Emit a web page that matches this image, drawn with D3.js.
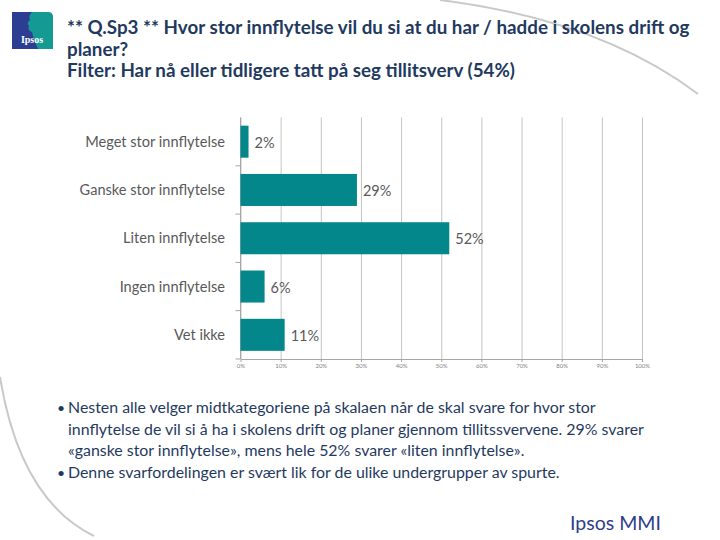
<!DOCTYPE html>
<html>
<head>
<meta charset="utf-8">
<script src="https://cdn.jsdelivr.net/npm/d3@7"></script>
<style>
  body { margin: 0; background: #fff; }
  svg { display: block; }
</style>
</head>
<body>
<div id="chart"></div>
<script>
//size of the page
var width = 720;
var height = 540;

//chart data
var categories = ["Meget stor innflytelse", "Ganske stor innflytelse",
                  "Liten innflytelse", "Ingen innflytelse", "Vet ikke"];
var values = [2, 29, 52, 6, 11];
var tickValues = [0, 10, 20, 30, 40, 50, 60, 70, 80, 90, 100];

//texts
var titleLines = ["** Q.Sp3 ** Hvor stor innflytelse vil du si at du har / hadde i skolens drift og",
                  "planer?",
                  "Filter: Har nå eller tidligere tatt på seg tillitsverv (54%)"];
var bulletLines = [
  {bullet: true,  text: "Nesten alle velger midtkategoriene på skalaen når de skal svare for hvor stor"},
  {bullet: false, text: "innflytelse de vil si å ha i skolens drift og planer gjennom tillitssvervene. 29% svarer"},
  {bullet: false, text: "«ganske stor innflytelse», mens hele 52% svarer «liten innflytelse»."},
  {bullet: true,  text: "Denne svarfordelingen er svært lik for de ulike undergrupper av spurte."}
];

var font = "Lato, 'Open Sans', sans-serif";
var navy = "#1f3a60";

var svg = d3.select("#chart")
            .append("svg")
            .attr("width", width)
            .attr("height", height);

//background arcs
svg.append("path")
   .attr("d", "M440,0 Q600,20 698,94")
   .attr("fill", "none")
   .attr("stroke", "#c9c9c9")
   .attr("stroke-width", 2);
svg.append("path")
   .attr("d", "M0,377 Q20,500 94,536")
   .attr("fill", "none")
   .attr("stroke", "#c9c9c9")
   .attr("stroke-width", 2);

//logo
var logo = svg.append("g").attr("transform", "translate(12,12)");
logo.append("path")
    .attr("d", "M0,0 H36 Q41,0 41,5 V37 H0 Z")
    .attr("fill", "#159a93");
logo.append("path")
    .attr("d", "M0,0 H20 Q16,4 18,8 Q14,11 17,14 Q15,18 20,20 Q21,26 26,37 H0 Z")
    .attr("fill", "#2c3d92");
logo.append("text")
    .text("Ipsos")
    .attr("x", 20)
    .attr("y", 31)
    .attr("text-anchor", "middle")
    .style("font-family", "'Liberation Serif', serif")
    .style("font-weight", "bold")
    .style("font-size", "10px")
    .style("fill", "#fff");

//title
svg.selectAll(".title")
   .data(titleLines)
   .enter()
   .append("text")
   .attr("class", "title")
   .text(function(d) { return d; })
   .attr("x", 67)
   .attr("y", function(d, i) { return 34 + i * 21.5; })
   .style("font-family", font)
   .style("font-weight", "bold")
   .style("font-size", "18.8px")
   .style("fill", navy);

//scales
var xScale = d3.scaleLinear()
               .domain([0, 100])
               .range([240.5, 642]);
var yScale = d3.scaleBand()
               .domain(categories)
               .range([117.5, 359])
               .paddingInner(0.337)
               .paddingOuter(0.169);

//vertical gridlines
svg.append("g")
   .attr("class", "grid")
   .attr("transform", "translate(0,359)")
   .call(d3.axisBottom(xScale)
           .tickValues(tickValues)
           .tickSize(-241.5)
           .tickSizeOuter(0)
           .tickFormat(""))
   .call(function(g) { g.select(".domain").remove(); })
   .selectAll("line")
   .attr("stroke", "#c4c4c4");

//x axis
var xAxis = svg.append("g")
   .attr("transform", "translate(0,359)")
   .call(d3.axisBottom(xScale)
           .tickValues(tickValues)
           .tickSize(3)
           .tickSizeOuter(0)
           .tickFormat(function(d) { return d + "%"; }));
xAxis.select(".domain").attr("stroke", "#a6a6a6");
xAxis.selectAll("line").attr("stroke", "#a6a6a6");
xAxis.selectAll("text")
     .attr("dy", "0.5em")
     .style("font-family", font)
     .style("font-size", "6px")
     .style("fill", "#7f7f7f");

//y axis with ticks at band boundaries
var yAxis = svg.append("g").attr("transform", "translate(240.5,0)");
yAxis.append("line")
     .attr("y1", 117.5)
     .attr("y2", 359)
     .attr("stroke", "#a6a6a6");
yAxis.selectAll(".btick")
     .data(categories)
     .enter()
     .append("line")
     .attr("x1", -5)
     .attr("x2", 0)
     .attr("y1", function(d) { return yScale(d) + yScale.bandwidth() + yScale.step() * yScale.paddingInner() / 2; })
     .attr("y2", function(d) { return yScale(d) + yScale.bandwidth() + yScale.step() * yScale.paddingInner() / 2; })
     .attr("stroke", "#a6a6a6");

//category labels
svg.selectAll(".cat")
   .data(categories)
   .enter()
   .append("text")
   .attr("class", "cat")
   .text(function(d) { return d; })
   .attr("x", 225)
   .attr("y", function(d) { return yScale(d) + yScale.bandwidth() / 2; })
   .attr("dy", "0.35em")
   .attr("text-anchor", "end")
   .style("font-family", font)
   .style("font-size", "14.6px")
   .style("fill", "#595959");

//bars
svg.selectAll(".bar")
   .data(values)
   .enter()
   .append("rect")
   .attr("class", "bar")
   .attr("x", xScale(0))
   .attr("y", function(d, i) { return yScale(categories[i]); })
   .attr("width", function(d) { return xScale(d) - xScale(0); })
   .attr("height", yScale.bandwidth())
   .attr("fill", "#03878b");

//value labels
svg.selectAll(".val")
   .data(values)
   .enter()
   .append("text")
   .attr("class", "val")
   .text(function(d) { return d + "%"; })
   .attr("x", function(d) { return xScale(d) + 6; })
   .attr("y", function(d, i) { return yScale(categories[i]) + yScale.bandwidth() / 2 + 1; })
   .attr("dy", "0.35em")
   .style("font-family", font)
   .style("font-size", "14.5px")
   .style("fill", "#595959");

//bullet text
var bullets = svg.selectAll(".bl")
   .data(bulletLines)
   .enter()
   .append("g")
   .attr("class", "bl")
   .attr("transform", function(d, i) { return "translate(0," + (413 + i * 21.7) + ")"; });
bullets.filter(function(d) { return d.bullet; })
       .append("text")
       .text("•")
       .attr("x", 57)
       .style("font-family", font)
       .style("font-size", "14px")
       .style("fill", navy);
bullets.append("text")
       .text(function(d) { return d.text; })
       .attr("x", 68)
       .style("font-family", font)
       .style("font-size", "15.9px")
       .style("fill", navy);

//footer
svg.append("text")
   .text("Ipsos MMI")
   .attr("x", 570)
   .attr("y", 530)
   .style("font-family", font)
   .style("font-size", "19.5px")
   .style("fill", "#2e3d8a");
</script>
</body>
</html>
